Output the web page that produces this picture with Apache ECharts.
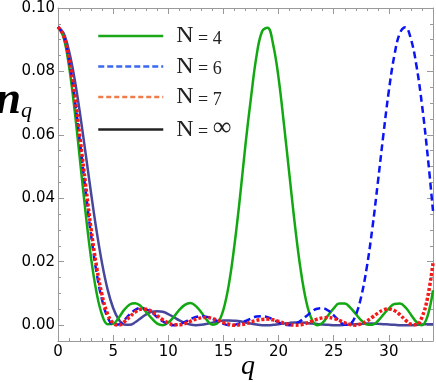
<!DOCTYPE html>
<html>
<head>
<meta charset="utf-8">
<script src="https://cdn.jsdelivr.net/npm/echarts@6/dist/echarts.min.js"></script>
<style>
  html, body { margin: 0; padding: 0; background: #fff; }
  #chart { width: 436px; height: 382px; }
</style>
</head>
<body>
<div id="chart"></div>
<script>
// momentum grid (every 0.5)
var q = [0, 0.5, 1, 1.5, 2, 2.5, 3, 3.5, 4, 4.5, 5, 5.5, 6, 6.5, 7, 7.5, 8, 8.5, 9, 9.5,
  10, 10.5, 11, 11.5, 12, 12.5, 13, 13.5, 14, 14.5, 15, 15.5, 16, 16.5, 17, 17.5, 18, 18.5, 19, 19.5,
  20, 20.5, 21, 21.5, 22, 22.5, 23, 23.5, 24, 24.5, 25, 25.5, 26, 26.5, 27, 27.5, 28, 28.5, 29, 29.5,
  30, 30.5, 31, 31.5, 32, 32.5, 33, 33.5, 34];

var n4 = [0.0940, 0.0908, 0.0816, 0.0680, 0.0518, 0.0355, 0.0211, 0.0102, 0.0032, 0.0003,
  0.0004, 0.0023, 0.0048, 0.0065, 0.0069, 0.0060, 0.0041, 0.0021, 0.0005, 0.0000,
  0.0008, 0.0026, 0.0048, 0.0064, 0.0070, 0.0060, 0.0040, 0.0016, 0.0001, 0.0008,
  0.0049, 0.0130, 0.0253, 0.0403, 0.0570, 0.0718, 0.0849, 0.0926, 0.0938, 0.0886,
  0.0779, 0.0629, 0.0468, 0.0310, 0.0175, 0.0076, 0.0019, 0.0000, 0.0008, 0.0031,
  0.0053, 0.0068, 0.0068, 0.0055, 0.0035, 0.0015, 0.0002, 0.0001, 0.0013, 0.0033,
  0.0053, 0.0067, 0.0068, 0.0056, 0.0033, 0.0010, 0.0000, 0.0028, 0.0110];

var n6 = [0.0940, 0.0913, 0.0835, 0.0718, 0.0575, 0.0424, 0.0284, 0.0165, 0.0079, 0.0025,
  0.0002, 0.0002, 0.0016, 0.0034, 0.0048, 0.0054, 0.0050, 0.0040, 0.0025, 0.0012,
  0.0003, 0.0000, 0.0003, 0.0010, 0.0019, 0.0026, 0.0028, 0.0026, 0.0020, 0.0012,
  0.0004, 0.0000, 0.0001, 0.0006, 0.0013, 0.0021, 0.0027, 0.0028, 0.0025, 0.0018,
  0.0009, 0.0002, 0.0000, 0.0004, 0.0014, 0.0028, 0.0042, 0.0052, 0.0053, 0.0046,
  0.0031, 0.0013, 0.0001, 0.0004, 0.0032, 0.0091, 0.0183, 0.0305, 0.0450, 0.0600,
  0.0740, 0.0851, 0.0921, 0.0939, 0.0902, 0.0818, 0.0695, 0.0540, 0.0360];

var n7 = [0.0940, 0.0914, 0.0840, 0.0727, 0.0589, 0.0443, 0.0303, 0.0184, 0.0094, 0.0035,
  0.0006, 0.0000, 0.0010, 0.0026, 0.0041, 0.0050, 0.0050, 0.0043, 0.0030, 0.0017,
  0.0007, 0.0001, 0.0001, 0.0005, 0.0012, 0.0019, 0.0023, 0.0024, 0.0021, 0.0015,
  0.0008, 0.0003, 0.0000, 0.0001, 0.0004, 0.0010, 0.0015, 0.0018, 0.0019, 0.0017,
  0.0012, 0.0006, 0.0002, 0.0000, 0.0001, 0.0006, 0.0012, 0.0019, 0.0023, 0.0024,
  0.0021, 0.0015, 0.0007, 0.0002, 0.0000, 0.0004, 0.0013, 0.0025, 0.0038, 0.0048,
  0.0051, 0.0046, 0.0033, 0.0016, 0.0003, 0.0001, 0.0025, 0.0085, 0.0195];

var nInf = [0.0940, 0.0921, 0.0864, 0.0777, 0.0666, 0.0542, 0.0416, 0.0297, 0.0194, 0.0112,
  0.0054, 0.0018, 0.0002, 0.0001, 0.0009, 0.0022, 0.0034, 0.0042, 0.0044, 0.0042,
  0.0035, 0.0025, 0.0015, 0.0007, 0.0002, 0.0000, 0.0001, 0.0004, 0.0008, 0.0012,
  0.0015, 0.0015, 0.0014, 0.0012, 0.0008, 0.0005, 0.0002, 0.0000, 0.0000, 0.0001,
  0.0003, 0.0005, 0.0007, 0.0008, 0.0008, 0.0007, 0.0005, 0.0004, 0.0002, 0.0001,
  0.0000, 0.0000, 0.0001, 0.0002, 0.0003, 0.0004, 0.0005, 0.0005, 0.0004, 0.0003,
  0.0002, 0.0001, 0.0000, 0.0000, 0.0000, 0.0001, 0.0002, 0.0003, 0.0003];

var seriesNames = ['N = 4', 'N = 6', 'N = 7', 'N = \u221e'];

// ticks
var xMajor = [0, 5, 10, 15, 20, 25, 30];
var xMinor = [1, 2, 3, 4, 6, 7, 8, 9, 11, 12, 13, 14, 16, 17, 18, 19, 21, 22, 23, 24, 26, 27, 28, 29, 31, 32, 33];
var yMajor = [0, 0.02, 0.04, 0.06, 0.08, 0.1];
var yMinor = [0.005, 0.01, 0.015, 0.025, 0.03, 0.035, 0.045, 0.05, 0.055, 0.065, 0.07, 0.075, 0.085, 0.09, 0.095];

var X_MIN = 0, X_MAX = 34, Y_MIN = -0.005, Y_MAX = 0.1;
var frameColor = '#9a9a9a';

function pairs(vals) {
  return q.map(function (x, i) { return [x, vals[i]]; });
}

function xAx(grid, pos, ticks, len, line, labels) {
  return {
    type: 'value', gridIndex: grid, position: pos, min: X_MIN, max: X_MAX,
    axisLine: { show: line, onZero: false, lineStyle: { color: frameColor, width: 1 } },
    axisTick: { show: true, inside: true, length: len, customValues: ticks, lineStyle: { color: frameColor } },
    axisLabel: labels ? {
      show: true, customValues: xMajor, margin: 4, color: '#000', fontSize: 15, fontFamily: 'DejaVu Sans',
      formatter: function (v) { return String(v); }
    } : { show: false },
    splitLine: { show: false }
  };
}

function yAx(grid, pos, ticks, len, line, labels) {
  return {
    type: 'value', gridIndex: grid, position: pos, min: Y_MIN, max: Y_MAX,
    axisLine: { show: line, onZero: false, lineStyle: { color: frameColor, width: 1 } },
    axisTick: { show: true, inside: true, length: len, customValues: ticks, lineStyle: { color: frameColor } },
    axisLabel: labels ? {
      show: true, customValues: yMajor, margin: 3, color: '#000', fontSize: 15, fontFamily: 'DejaVu Sans',
      formatter: function (v) { return v.toFixed(2); }
    } : { show: false },
    splitLine: { show: false }
  };
}

var gridBox = { left: 58, right: 3, top: 8, bottom: 41 };

var chart = echarts.init(document.getElementById('chart'));
chart.setOption({
  animation: false,
  backgroundColor: '#fff',
  grid: [Object.assign({}, gridBox), Object.assign({}, gridBox)],
  xAxis: [
    xAx(0, 'bottom', xMajor, 6, true, true),
    xAx(0, 'top', xMajor, 6, true, false),
    xAx(1, 'bottom', xMinor, 3, false, false),
    xAx(1, 'top', xMinor, 3, false, false)
  ],
  yAxis: [
    yAx(0, 'left', yMajor, 6, true, true),
    yAx(0, 'right', yMajor, 6, true, false),
    yAx(1, 'left', yMinor, 3, false, false),
    yAx(1, 'right', yMinor, 3, false, false)
  ],
  legend: {
    orient: 'vertical', left: 97, top: 24, padding: 0,
    itemWidth: 65, itemHeight: 24, itemGap: 6.5,
    itemStyle: { color: 'rgba(0,0,0,0)', borderColor: 'rgba(0,0,0,0)', borderWidth: 0 },
    textStyle: {
      padding: [0, 0, 0, 8],
      rich: {
        n: { fontFamily: 'Liberation Serif', fontSize: 24, lineHeight: 24, color: '#222', verticalAlign: 'bottom' },
        r: { fontFamily: 'Liberation Serif', fontSize: 18, lineHeight: 19, color: '#222', verticalAlign: 'bottom' },
        inf: { fontFamily: 'Liberation Serif', fontSize: 26, lineHeight: 22, color: '#222', verticalAlign: 'bottom' }
      }
    },
    formatter: function (name) {
      var rest = name.slice(1);
      if (rest.indexOf('\u221e') >= 0) return '{n|N}{r| = }{inf|\u221e}';
      return '{n|N}{r|' + rest + '}';
    },
    data: [
      { name: seriesNames[0], lineStyle: { color: '#1aa81a', width: 2.5, type: 'solid' } },
      { name: seriesNames[1], lineStyle: { color: '#3a68f2', width: 2.5, type: [6, 3] } },
      { name: seriesNames[2], lineStyle: { color: '#f27a48', width: 2.5, type: [5, 3] } },
      { name: seriesNames[3], lineStyle: { color: '#222222', width: 2.5, type: 'solid' } }
    ]
  },
  graphic: [
    { type: 'text', x: 21, y: 101, style: { text: 'n', font: 'bold italic 46px "Liberation Serif"', fill: '#000', align: 'right', verticalAlign: 'middle' } },
    { type: 'text', x: 21, y: 111, style: { text: 'q', font: 'italic 22px "Liberation Serif"', fill: '#000', align: 'left', verticalAlign: 'middle' } },
    { type: 'text', x: 248, y: 367, style: { text: 'q', font: 'italic 28px "Liberation Serif"', fill: '#000', align: 'center', verticalAlign: 'middle' } }
  ],
  series: [
    { name: seriesNames[0], type: 'line', data: pairs(n4), symbol: 'none', smooth: 0.4, z: 3,
      itemStyle: { color: '#12a812' }, lineStyle: { color: '#12a812', width: 2.5 } },
    { name: seriesNames[1], type: 'line', data: pairs(n6), symbol: 'none', smooth: 0.4, z: 4,
      itemStyle: { color: '#0a14f5' }, lineStyle: { color: '#0a14f5', width: 2.5, type: [7, 4], cap: 'butt' } },
    { name: seriesNames[2], type: 'line', data: pairs(n7), symbol: 'none', smooth: 0.4, z: 5,
      itemStyle: { color: '#f51a1a' }, lineStyle: { color: '#f51a1a', width: 3.5, type: [3, 2], cap: 'butt' } },
    { name: seriesNames[3], type: 'line', data: pairs(nInf), symbol: 'none', smooth: 0.4, z: 2,
      itemStyle: { color: '#46469c' }, lineStyle: { color: '#46469c', width: 2.5 } }
  ]
});
</script>
</body>
</html>
